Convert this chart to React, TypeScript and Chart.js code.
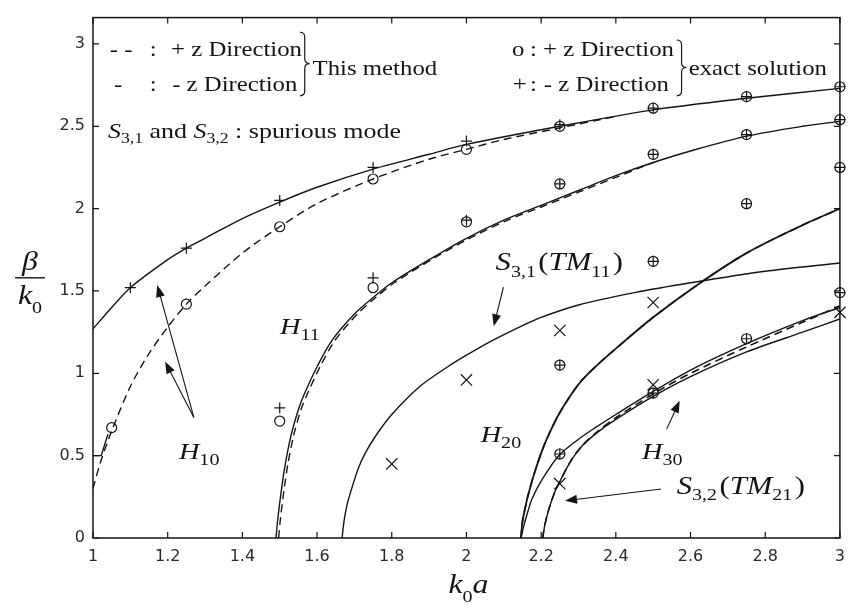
import React, { useEffect, useRef } from "react";
import { Chart, registerables } from "chart.js";

Chart.register(...registerables);

// ---------- axes ----------
const xTicks = [1, 1.2, 1.4, 1.6, 1.8, 2, 2.2, 2.4, 2.6, 2.8, 3];
const yTicks = [0, 0.5, 1, 1.5, 2, 2.5, 3];
const xRange = [1, 3];
const yRange = [0, 3.16];

// ---------- "This method" curves ----------
// H10, -z direction (solid) and +z direction (dashed)
const h10MinusX = [1, 1.05, 1.1, 1.2, 1.25, 1.3, 1.4, 1.5, 1.6, 1.75, 1.9, 2.0, 2.25, 2.5, 2.75, 3.0];
const h10MinusY = [1.27, 1.4, 1.52, 1.69, 1.76, 1.82, 1.94, 2.04, 2.13, 2.24, 2.33, 2.39, 2.5, 2.6, 2.67, 2.73];
const h10PlusX = [1, 1.02, 1.05, 1.1, 1.15, 1.2, 1.25, 1.3, 1.4, 1.5, 1.6, 1.75, 1.9, 2.0, 2.1, 2.25, 2.4];
const h10PlusY = [0.3, 0.46, 0.65, 0.92, 1.12, 1.28, 1.42, 1.53, 1.73, 1.89, 2.03, 2.18, 2.3, 2.36, 2.42, 2.49, 2.56];
const h10StubX = [1, 1.022, 1.04];
const h10StubY = [0.5, 0.5, 0.63];

// H11
const h11MinusX = [1.49, 1.495, 1.505, 1.515, 1.53, 1.55, 1.567, 1.6, 1.64, 1.7, 1.75, 1.8, 1.9, 2.0, 2.1, 2.2, 2.3, 2.4, 2.5, 2.6, 2.75, 2.9, 3.0];
const h11MinusY = [0, 0.12, 0.3, 0.45, 0.62, 0.78, 0.88, 1.04, 1.2, 1.36, 1.46, 1.55, 1.69, 1.82, 1.93, 2.02, 2.11, 2.2, 2.28, 2.35, 2.44, 2.5, 2.53];
const h11PlusX = [1.497, 1.502, 1.512, 1.522, 1.537, 1.557, 1.575, 1.608, 1.648, 1.708, 1.757, 1.807, 1.906, 2.0, 2.1, 2.2, 2.3, 2.4, 2.5];
const h11PlusY = [0, 0.12, 0.3, 0.45, 0.62, 0.78, 0.88, 1.04, 1.2, 1.36, 1.46, 1.55, 1.69, 1.81, 1.92, 2.01, 2.1, 2.19, 2.28];

// S3,1 (TM11) spurious
const s31X = [1.667, 1.672, 1.68, 1.69, 1.71, 1.73, 1.76, 1.8, 1.875, 1.95, 2.0, 2.07, 2.15, 2.2, 2.3, 2.45, 2.6, 2.8, 3.0];
const s31Y = [0, 0.1, 0.2, 0.28, 0.42, 0.52, 0.63, 0.75, 0.92, 1.04, 1.11, 1.2, 1.29, 1.34, 1.415, 1.49, 1.55, 1.62, 1.67];

// H20
const h20X = [2.146, 2.15, 2.157, 2.164, 2.18, 2.204, 2.225, 2.247, 2.28, 2.31, 2.35, 2.4, 2.5, 2.62, 2.75, 2.9, 3.0];
const h20Y = [0, 0.1, 0.18, 0.25, 0.38, 0.54, 0.65, 0.75, 0.87, 0.96, 1.05, 1.15, 1.34, 1.54, 1.73, 1.9, 2.0];

// H30 (-z solid, +z dashed) and S3,2 (TM21)
const h30MinusX = [2.146, 2.152, 2.163, 2.176, 2.204, 2.247, 2.3, 2.345, 2.4, 2.5, 2.6, 2.75, 2.9, 3.0];
const h30MinusY = [0, 0.06, 0.15, 0.24, 0.36, 0.5, 0.6, 0.67, 0.75, 0.89, 1.02, 1.18, 1.32, 1.4];
const h30PlusX = [2.204, 2.21, 2.22, 2.235, 2.247, 2.28, 2.31, 2.35, 2.4, 2.5, 2.6, 2.75, 2.9, 3.0];
const h30PlusY = [0, 0.08, 0.17, 0.27, 0.33, 0.47, 0.56, 0.645, 0.73, 0.875, 1.0, 1.16, 1.31, 1.41];
const s32X = [2.204, 2.21, 2.22, 2.235, 2.247, 2.28, 2.31, 2.35, 2.4, 2.5, 2.6, 2.75, 2.9, 3.0];
const s32Y = [0, 0.08, 0.17, 0.27, 0.33, 0.47, 0.56, 0.64, 0.72, 0.86, 0.98, 1.13, 1.25, 1.33];

// ---------- exact solution ----------
const exH10oX = [1.05, 1.25, 1.5, 1.75, 2.0, 2.25, 2.5, 2.75, 3.0];
const exH10oY = [0.67, 1.42, 1.89, 2.18, 2.36, 2.5, 2.61, 2.68, 2.74];
const exH10pX = [1.1, 1.25, 1.5, 1.75, 2.0, 2.25, 2.5, 2.75, 3.0];
const exH10pY = [1.52, 1.76, 2.05, 2.25, 2.41, 2.51, 2.61, 2.68, 2.74];
const exH11X = [1.5, 1.75, 2.0, 2.25, 2.5, 2.75, 3.0];
const exH11oY = [0.71, 1.52, 1.92, 2.15, 2.33, 2.45, 2.54];
const exH11pY = [0.79, 1.58, 1.93, 2.15, 2.33, 2.45, 2.54];
const exH20X = [2.25, 2.5, 2.75, 3.0];
const exH20Y = [1.05, 1.68, 2.03, 2.25];
const exH30X = [2.25, 2.5, 2.75, 3.0];
const exH30Y = [0.51, 0.88, 1.21, 1.49];
const spurX = [1.8, 2.0, 2.25, 2.5, 2.25, 2.5, 3.0];
const spurY = [0.45, 0.96, 1.26, 1.43, 0.33, 0.93, 1.37];

// ---------- annotations (data coordinates) ----------
type Part = { t: string; i?: boolean; s?: boolean; g?: number };
const modeLabels: { x: number; y: number; size: number; sub: number; parts: Part[] }[] = [
  { x: 1.23, y: 0.482, size: 24, sub: 17, parts: [{ t: "H", i: true }, { t: "10", s: true }] },
  { x: 1.501, y: 1.238, size: 24, sub: 17, parts: [{ t: "H", i: true }, { t: "11", s: true }] },
  { x: 2.038, y: 0.583, size: 24, sub: 17, parts: [{ t: "H", i: true }, { t: "20", s: true }] },
  { x: 2.47, y: 0.482, size: 24, sub: 17, parts: [{ t: "H", i: true }, { t: "30", s: true }] },
  {
    x: 2.078, y: 1.625, size: 26, sub: 17,
    parts: [{ t: "S", i: true }, { t: "3,1", s: true, g: 2 }, { t: "(" }, { t: "TM", i: true }, { t: "11", s: true, g: 2 }, { t: ")" }],
  },
  {
    x: 2.563, y: 0.268, size: 26, sub: 17,
    parts: [{ t: "S", i: true }, { t: "3,2", s: true, g: 2 }, { t: "(" }, { t: "TM", i: true }, { t: "21", s: true, g: 2 }, { t: ")" }],
  },
];
const arrows: number[][] = [
  [1.27, 0.732, 1.172, 1.536],
  [1.27, 0.732, 1.193, 1.071],
  [2.099, 1.524, 2.073, 1.286],
  [2.536, 0.661, 2.571, 0.833],
  [2.521, 0.298, 2.264, 0.226],
];
const legendTexts: { x: number; y: number; t: string }[] = [
  { x: 1.045, y: 2.929, t: "- -" },
  { x: 1.152, y: 2.929, t: ":" },
  { x: 1.209, y: 2.929, t: "+ z Direction" },
  { x: 1.056, y: 2.714, t: "-" },
  { x: 1.152, y: 2.714, t: ":" },
  { x: 1.212, y: 2.714, t: "- z Direction" },
  { x: 1.588, y: 2.81, t: "This method" },
  { x: 2.122, y: 2.929, t: "o" },
  { x: 2.17, y: 2.929, t: ":" },
  { x: 2.205, y: 2.929, t: "+ z Direction" },
  { x: 2.124, y: 2.714, t: "+" },
  { x: 2.17, y: 2.714, t: ":" },
  { x: 2.207, y: 2.714, t: "- z Direction" },
  { x: 2.595, y: 2.81, t: "exact solution" },
];
const braces: number[][] = [
  // left, right, top, tip, bottom
  [1.554, 1.58, 3.071, 2.881, 2.685],
  [2.563, 2.589, 3.024, 2.857, 2.685],
];
const spuriousNote: Part[] = [
  { t: "S", i: true }, { t: "3,1", s: true }, { t: " and " },
  { t: "S", i: true }, { t: "3,2", s: true }, { t: " : spurious mode" },
];
const spuriousPos = { x: 1.04, y: 2.429 };

// ---------- helpers ----------
const INK = "#141414";
const SERIF = '"Liberation Serif", "Times New Roman", serif';
const SX = 1.18;

const pts = (xs: number[], ys: number[]) => xs.map((x, i) => ({ x, y: ys[i] }));

function rich(ctx: CanvasRenderingContext2D, X: number, Y: number, parts: Part[], size: number, sub: number, drop: number, align = "left") {
  ctx.save();
  ctx.translate(X, Y);
  ctx.scale(SX, 1);
  ctx.textBaseline = "alphabetic";
  ctx.textAlign = "left";
  const fontOf = (p: Part) => `${p.i ? "italic " : ""}${p.s ? sub : size}px ${SERIF}`;
  let w = 0;
  for (const p of parts) {
    ctx.font = fontOf(p);
    w += ctx.measureText(p.t).width + (p.g || 0);
  }
  let cx = align === "center" ? -w / 2 : 0;
  for (const p of parts) {
    ctx.font = fontOf(p);
    ctx.fillText(p.t, cx, p.s ? size * drop : 0);
    cx += ctx.measureText(p.t).width + (p.g || 0);
  }
  ctx.restore();
}

function arrow(ctx: CanvasRenderingContext2D, x1: number, y1: number, x2: number, y2: number) {
  const a = Math.atan2(y2 - y1, x2 - x1);
  const L = 12, W = 4.5;
  const c = Math.cos(a), s = Math.sin(a);
  ctx.beginPath();
  ctx.moveTo(x1, y1);
  ctx.lineTo(x2 - c * L * 0.7, y2 - s * L * 0.7);
  ctx.stroke();
  ctx.beginPath();
  ctx.moveTo(x2, y2);
  ctx.lineTo(x2 - L * c + W * s, y2 - L * s - W * c);
  ctx.lineTo(x2 - L * c - W * s, y2 - L * s + W * c);
  ctx.closePath();
  ctx.fill();
}

function brace(ctx: CanvasRenderingContext2D, L: number, R: number, top: number, tip: number, bottom: number) {
  const M = (L + R) / 2;
  const r = 5;
  ctx.beginPath();
  ctx.moveTo(L, top);
  ctx.quadraticCurveTo(M, top, M, top + r);
  ctx.lineTo(M, tip - r);
  ctx.quadraticCurveTo(M, tip, R, tip);
  ctx.quadraticCurveTo(M, tip, M, tip + r);
  ctx.lineTo(M, bottom - r);
  ctx.quadraticCurveTo(M, bottom, L, bottom);
  ctx.stroke();
}

const frame = {
  id: "frame",
  afterDatasetsDraw(chart: any) {
    const { ctx, chartArea: a, scales } = chart;
    const X = (v: number) => scales.x.getPixelForValue(v);
    const Y = (v: number) => scales.y.getPixelForValue(v);
    ctx.save();
    ctx.strokeStyle = INK;
    ctx.fillStyle = INK;
    ctx.setLineDash([]);
    ctx.lineWidth = 1.5;
    ctx.strokeRect(a.left, a.top, a.right - a.left, a.bottom - a.top);
    ctx.lineWidth = 1.2;
    ctx.beginPath();
    for (const t of xTicks) {
      const p = X(t);
      ctx.moveTo(p, a.bottom);
      ctx.lineTo(p, a.bottom - 6);
      ctx.moveTo(p, a.top);
      ctx.lineTo(p, a.top + 6);
    }
    for (const t of yTicks) {
      const p = Y(t);
      ctx.moveTo(a.left, p);
      ctx.lineTo(a.left + 6, p);
      ctx.moveTo(a.right, p);
      ctx.lineTo(a.right - 6, p);
    }
    ctx.stroke();

    ctx.lineWidth = 1.1;
    for (const [x1, y1, x2, y2] of arrows) arrow(ctx, X(x1), Y(y1), X(x2), Y(y2));

    for (const m of modeLabels) rich(ctx, X(m.x), Y(m.y), m.parts, m.size, m.sub, 0.25);

    for (const l of legendTexts) rich(ctx, X(l.x), Y(l.y), [{ t: l.t }], 21, 14, 0.25);
    ctx.lineWidth = 1.2;
    for (const [l, r, t, m, b] of braces) brace(ctx, X(l), X(r), Y(t), Y(m), Y(b));
    rich(ctx, X(spuriousPos.x), Y(spuriousPos.y), spuriousNote, 22, 15, 0.24);

    // y axis title: beta / k0
    const cxY = a.left - 63;
    const midY = (a.top + a.bottom) / 2;
    rich(ctx, cxY, midY - 8, [{ t: "β", i: true }], 27, 17, 0.3, "center");
    ctx.lineWidth = 1.4;
    ctx.beginPath();
    ctx.moveTo(cxY - 15, midY);
    ctx.lineTo(cxY + 15, midY);
    ctx.stroke();
    rich(ctx, cxY, midY + 26, [{ t: "k", i: true }, { t: "0", s: true }], 27, 17, 0.33, "center");

    // x axis title: k0 a
    rich(ctx, (a.left + a.right) / 2 + 2, a.bottom + 55, [{ t: "k", i: true }, { t: "0", s: true }, { t: "a", i: true }], 27, 17, 0.33, "center");
    ctx.restore();
  },
};

function lineSet(label: string, xs: number[], ys: number[], dashed: boolean, width = 1.4) {
  return {
    type: "line" as const,
    label,
    data: pts(xs, ys),
    borderColor: INK,
    borderWidth: width,
    borderDash: dashed ? [8, 5] : [],
    pointRadius: 0,
    showLine: true,
    fill: false,
    tension: 0.3,
    cubicInterpolationMode: "default" as const,
    order: 2,
  };
}

function markSet(label: string, xs: number[], ys: number[], style: string, r: number) {
  return {
    type: "scatter" as const,
    label,
    data: pts(xs, ys),
    pointStyle: style,
    pointRadius: r,
    pointBorderColor: INK,
    borderColor: INK,
    pointBackgroundColor: "rgba(0,0,0,0)",
    backgroundColor: "rgba(0,0,0,0)",
    pointBorderWidth: 1.2,
    borderWidth: 1.2,
    showLine: false,
    clip: false,
    order: 1,
  };
}

export default function App() {
  const ref = useRef<HTMLCanvasElement>(null);
  useEffect(() => {
    const canvas = ref.current;
    if (!canvas) return;
    const stub = lineSet("H10 stub", h10StubX, h10StubY, false);
    (stub as any).tension = 0;
    const datasets: any[] = [
      lineSet("H10 -z", h10MinusX, h10MinusY, false),
      lineSet("H10 +z", h10PlusX, h10PlusY, true),
      stub,
      lineSet("H11 -z", h11MinusX, h11MinusY, false),
      lineSet("H11 +z", h11PlusX, h11PlusY, true),
      lineSet("S3,1 (TM11)", s31X, s31Y, false),
      lineSet("H20 -z", h20X, h20Y, false, 1.8),
      lineSet("H20 +z", h20X, h20Y, true, 1.6),
      lineSet("H30 -z", h30MinusX, h30MinusY, false),
      lineSet("H30 +z", h30PlusX, h30PlusY, true, 1.6),
      lineSet("S3,2 (TM21)", s32X, s32Y, false),
      markSet("exact H10 +z", exH10oX, exH10oY, "circle", 5),
      markSet("exact H10 -z", exH10pX, exH10pY, "cross", 5.5),
      markSet("exact H11 +z", exH11X, exH11oY, "circle", 5),
      markSet("exact H11 -z", exH11X, exH11pY, "cross", 5.5),
      markSet("exact H20 +z", exH20X, exH20Y, "circle", 5),
      markSet("exact H20 -z", exH20X, exH20Y, "cross", 5.5),
      markSet("exact H30 +z", exH30X, exH30Y, "circle", 5),
      markSet("exact H30 -z", exH30X, exH30Y, "cross", 5.5),
      markSet("spurious", spurX, spurY, "crossRot", 8),
    ];
    const tickFont = { family: '"DejaVu Sans", sans-serif', size: 16 };
    const chart = new Chart(canvas, {
      type: "scatter",
      data: { datasets },
      options: {
        responsive: false,
        animation: false,
        events: [],
        layout: { padding: { top: 7, right: 6, left: 0, bottom: 0 } },
        plugins: { legend: { display: false }, tooltip: { enabled: false } },
        scales: {
          x: {
            type: "linear",
            min: xRange[0],
            max: xRange[1],
            afterBuildTicks: (s: any) => {
              s.ticks = xTicks.map((value) => ({ value }));
            },
            afterFit: (s: any) => {
              s.height = 70;
            },
            grid: { display: false, drawTicks: false },
            border: { display: false },
            ticks: {
              padding: 9,
              font: tickFont,
              color: "#2a2a2a",
              maxRotation: 0,
              autoSkip: false,
              callback: (v: any) => String(v),
            },
          },
          y: {
            type: "linear",
            min: yRange[0],
            max: yRange[1],
            afterBuildTicks: (s: any) => {
              s.ticks = yTicks.map((value) => ({ value }));
            },
            afterFit: (s: any) => {
              s.width = 93;
            },
            grid: { display: false, drawTicks: false },
            border: { display: false },
            ticks: {
              padding: 8,
              font: tickFont,
              color: "#2a2a2a",
              autoSkip: false,
              includeBounds: false,
              callback: (v: any) => String(v),
            },
          },
        },
      } as any,
      plugins: [frame],
    });
    return () => chart.destroy();
  }, []);
  return (
    <div style={{ position: "fixed", left: 0, top: 0, width: 854, height: 608, background: "#fff" }}>
      <canvas ref={ref} width={854} height={608} style={{ display: "block", width: 854, height: 608 }} />
    </div>
  );
}
